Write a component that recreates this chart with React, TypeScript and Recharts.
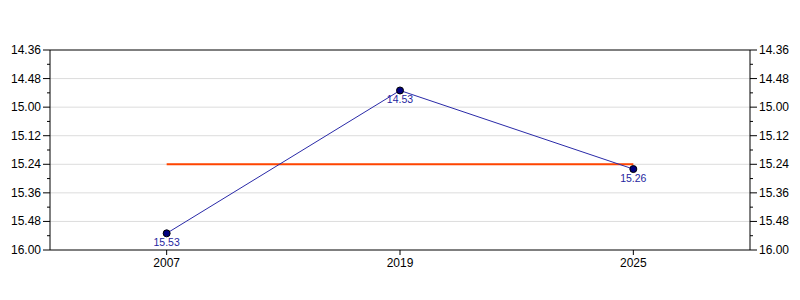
import { LineChart, Line, XAxis, YAxis, ReferenceLine, LabelList } from 'recharts'

// race years and finishing times, written as min.sec
const years = ['2007', '2019', '2025']
const times = [15.53, 14.53, 15.26]
const average = [15.24, 15.24, 15.24]

const yMajorTicks = ['14.36', '14.48', '15.00', '15.12', '15.24', '15.36', '15.48', '16.00']
const yMinorTicks = ['14.42', '14.54', '15.06', '15.18', '15.30', '15.42', '15.54']

const toSec = (v: number | string) => {
  const [m, s] = String(typeof v === 'number' ? v.toFixed(2) : v).split('.')
  return Number(m) * 60 + Number(s)
}
const fmt = (sec: number) => `${Math.floor(sec / 60)}.${String(sec % 60).padStart(2, '0')}`

const majorSec = yMajorTicks.map(toSec)
const allTicks = [...majorSec, ...yMinorTicks.map(toSec)].sort((a, b) => a - b)
const domain = [majorSec[0], majorSec[majorSec.length - 1]]

const data = years.map((year, i) => ({ year, time: toSec(times[i]), avg: toSec(average[i]) }))

const FONT = '"Liberation Sans", Arial, sans-serif'

const YTick = ({ x, y, payload, side }: any) => {
  const major = majorSec.includes(payload.value)
  const dir = side === 'left' ? -1 : 1
  const len = major ? 7 : 3
  return (
    <g>
      <line x1={x} x2={x + dir * len} y1={y} y2={y} stroke="#000" />
      {major && (
        <text x={x + dir * 9} y={y} dy={4} textAnchor={side === 'left' ? 'end' : 'start'}
          fontSize={12} fontFamily={FONT} fill="#000">
          {fmt(payload.value)}
        </text>
      )}
    </g>
  )
}

const PointLabel = ({ x, y, value }: any) => (
  <text x={x} y={y + 13} textAnchor="middle" fontSize={10.5} fontFamily={FONT} fill="#1f1fa0">
    {fmt(value)}
  </text>
)

export default function App() {
  return (
    <div style={{ position: 'absolute', left: 0, top: 0 }}>
      <LineChart width={800} height={300} data={data} margin={{ top: 50, right: 0, bottom: 20, left: 0 }}>
        <XAxis
          dataKey="year"
          scale="band"
          height={30}
          stroke="#000"
          tickSize={5}
          tickMargin={3}
          tick={{ fill: '#000', fontSize: 12, fontFamily: FONT }}
        />
        <YAxis
          yAxisId="left"
          width={50}
          reversed
          type="number"
          domain={domain}
          ticks={allTicks}
          interval={0}
          stroke="#000"
          tickLine={false}
          tickSize={0}
          tickMargin={0}
          tick={<YTick side="left" />}
        />
        <YAxis
          yAxisId="right"
          orientation="right"
          width={50}
          reversed
          type="number"
          domain={domain}
          ticks={allTicks}
          interval={0}
          stroke="#000"
          tickLine={false}
          tickSize={0}
          tickMargin={0}
          tick={<YTick side="right" />}
        />
        {majorSec.slice(1, -1).map(v => (
          <ReferenceLine key={v} yAxisId="left" y={v} stroke="#dcdcdc" />
        ))}
        <ReferenceLine yAxisId="left" y={domain[0]} stroke="#000" />
        <Line
          yAxisId="right"
          type="linear"
          dataKey="avg"
          stroke="#ff4500"
          strokeWidth={2}
          dot={false}
          isAnimationActive={false}
        />
        <Line
          yAxisId="left"
          type="linear"
          dataKey="time"
          stroke="#2a2aa8"
          strokeWidth={1}
          dot={{ r: 3.5, fill: '#000080', stroke: '#000000', strokeWidth: 1 }}
          isAnimationActive={false}
        >
          <LabelList dataKey="time" content={<PointLabel />} />
        </Line>
      </LineChart>
    </div>
  )
}
